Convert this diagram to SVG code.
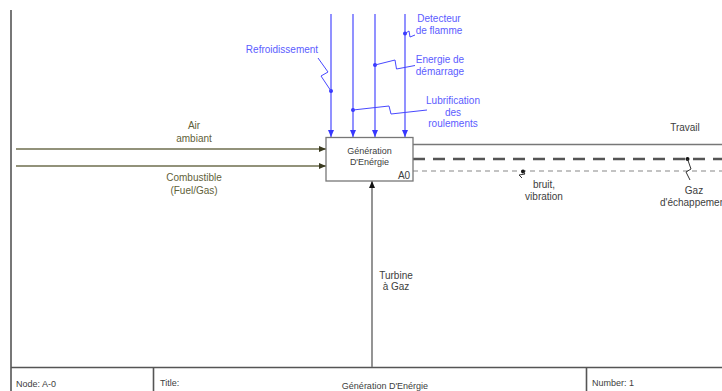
<svg xmlns="http://www.w3.org/2000/svg" width="722" height="391" viewBox="0 0 722 391">
<style>
text{font-family:"Liberation Sans",Arial,sans-serif;text-anchor:middle}
.lbl{font-size:10px}
.blue{fill:#5c5cff}
.ol{fill:#5f5f3a}
.dk{fill:#404040}
.ctl{stroke:#4848ff;stroke-width:1.2;fill:none}
.lead{stroke:#4848ff;stroke-width:1;fill:none}
.inp{stroke:#6e6e4e;stroke-width:1.4;fill:none}
.frame{stroke:#555;stroke-width:1.6;fill:none}
</style>
<defs>
<marker id="ab" markerWidth="8" markerHeight="8" refX="7" refY="4" orient="auto" markerUnits="userSpaceOnUse"><path d="M0,1 L7,4 L0,7 Z" fill="#3838ff"/></marker>
<marker id="ao" markerWidth="8" markerHeight="8" refX="7" refY="4" orient="auto" markerUnits="userSpaceOnUse"><path d="M0,1 L7,4 L0,7 Z" fill="#3a3a20"/></marker>
<marker id="ak" markerWidth="8" markerHeight="8" refX="7" refY="4" orient="auto" markerUnits="userSpaceOnUse"><path d="M0,1 L7,4 L0,7 Z" fill="#111"/></marker>
</defs>

<g id="frame">
<line class="frame" x1="11" y1="10" x2="11" y2="391"/>
<line class="frame" x1="11" y1="367.5" x2="722" y2="367.5"/>
<line class="frame" x1="153.5" y1="367.5" x2="153.5" y2="391"/>
<line class="frame" x1="586.5" y1="367.5" x2="586.5" y2="391"/>
<text x="16" y="387" style="font-size:9px;text-anchor:start" class="dk">Node:  A-0</text>
<text x="160" y="386" style="font-size:9px;text-anchor:start" class="dk">Title:</text>
<text x="385" y="389" style="font-size:9px" class="dk">Génération D'Enérgie</text>
<text x="592" y="386" style="font-size:9px;text-anchor:start" class="dk">Number: 1</text>
</g>

<g id="connectors">
<!-- controls -->
<line class="ctl" x1="331" y1="14" x2="331" y2="137" marker-end="url(#ab)"/>
<line class="ctl" x1="353" y1="14" x2="353" y2="137" marker-end="url(#ab)"/>
<line class="ctl" x1="375" y1="14" x2="375" y2="137" marker-end="url(#ab)"/>
<line class="ctl" x1="405" y1="14" x2="405" y2="137" marker-end="url(#ab)"/>
<circle cx="331" cy="91" r="2" fill="#3838ff"/>
<circle cx="353" cy="110" r="2" fill="#3838ff"/>
<circle cx="375" cy="65" r="2" fill="#3838ff"/>
<circle cx="405" cy="33.5" r="2" fill="#3838ff"/>
<polyline class="lead" points="318,58 328,72 321,76 331,91"/>
<polyline class="lead" points="375,65 395,60 396.5,69 415,65.5"/>
<polyline class="lead" points="353,110 389,106 391,114 427,110"/>
<polyline class="lead" points="405,33.5 409,31 410,37 415,35"/>
<!-- inputs -->
<line class="inp" x1="16" y1="149" x2="326" y2="149" marker-end="url(#ao)"/>
<line class="inp" x1="16" y1="166" x2="326" y2="166" marker-end="url(#ao)"/>
<!-- mechanism -->
<line x1="372" y1="367" x2="372" y2="181" stroke="#7a7a7a" stroke-width="1.6" marker-end="url(#ak)"/>
<!-- outputs -->
<line x1="413" y1="144.5" x2="722" y2="144.5" stroke="#777" stroke-width="1.4"/>
<line x1="413" y1="159" x2="722" y2="159" stroke="#555" stroke-width="2.4" stroke-dasharray="12,8"/>
<line x1="413" y1="171" x2="722" y2="171" stroke="#888" stroke-width="1.1" stroke-dasharray="5,4"/>
<circle cx="687.5" cy="159" r="2" fill="#111"/>
<polyline points="687.5,159 691,169 686,172 690,180" fill="none" stroke="#333" stroke-width="1"/>
<circle cx="523" cy="171.5" r="2" fill="#111"/>
<polyline points="523,171.5 525,174 519,175 522,178" fill="none" stroke="#333" stroke-width="1"/>
</g>

<g id="node-A0">
<rect x="326" y="137.5" width="87" height="43.5" fill="#fff" stroke="#777" stroke-width="1.3"/>
<text x="369.5" y="154" style="font-size:9px" class="dk">Génération</text>
<text x="369.5" y="165" style="font-size:9px" class="dk">D'Enérgie</text>
<text x="404" y="179" class="lbl dk">A0</text>
</g>

<g id="labels">
<text x="282" y="52.5" class="lbl blue">Refroidissement</text>
<text x="439" y="21.5" class="lbl blue">Detecteur</text>
<text x="439" y="33.5" class="lbl blue">de flamme</text>
<text x="440" y="62.5" class="lbl blue">Energie de</text>
<text x="440" y="74.5" class="lbl blue">démarrage</text>
<text x="453" y="103.5" class="lbl blue">Lubrification</text>
<text x="453" y="115.5" class="lbl blue">des</text>
<text x="453" y="127" class="lbl blue">roulements</text>
<text x="194" y="129" class="lbl ol">Air</text>
<text x="194" y="141.5" class="lbl ol">ambiant</text>
<text x="194" y="180.5" class="lbl ol">Combustible</text>
<text x="194" y="193.5" class="lbl ol">(Fuel/Gas)</text>
<text x="396" y="278.5" class="lbl dk">Turbine</text>
<text x="396" y="290" class="lbl dk">à Gaz</text>
<text x="685" y="130.5" class="lbl dk">Travail</text>
<text x="544" y="187.5" class="lbl dk">bruit,</text>
<text x="544" y="199.5" class="lbl dk">vibration</text>
<text x="694" y="193.5" class="lbl dk">Gaz</text>
<text x="694" y="205.5" class="lbl dk">d'échappement</text>
</g>
</svg>
